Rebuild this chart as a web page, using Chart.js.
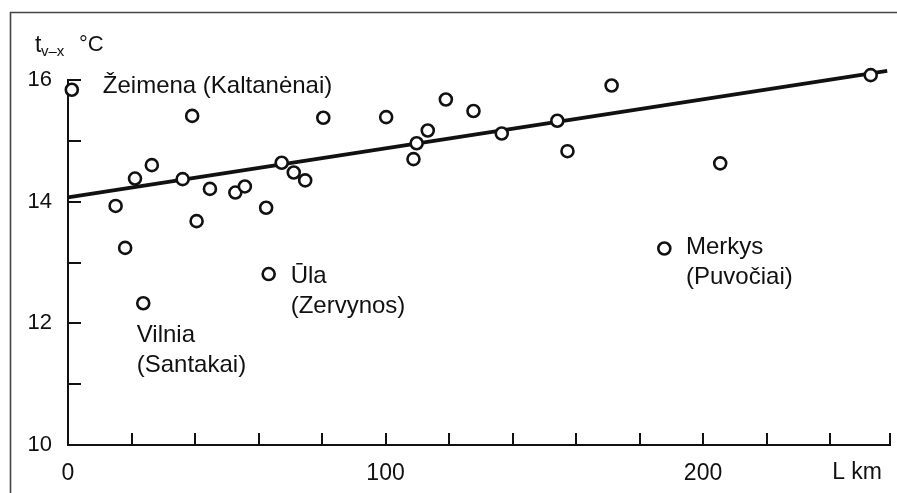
<!DOCTYPE html>
<html>
<head>
<meta charset="utf-8">
<script src="https://cdn.jsdelivr.net/npm/chart.js@4.4.0/dist/chart.umd.min.js"></script>
<style>
html,body{margin:0;padding:0;background:#fff;overflow:hidden;}
#wrap{width:897px;height:493px;position:relative;overflow:hidden;}
canvas{display:block;}
</style>
</head>
<body>
<div id="wrap"><canvas id="c" width="899" height="493"></canvas></div>
<script>
// ---- data ----
const riverLengthKm = [1.2, 15.0, 18.0, 21.1, 26.4, 23.7, 36.1, 39.1, 40.5, 44.7, 52.7, 55.7, 62.4, 63.2, 67.3, 71.1,
  74.7, 80.4, 100.2, 108.8, 109.8, 113.3, 119.0, 127.7, 136.6, 154.1, 157.3, 171.2, 187.8, 205.4, 252.8];
const meanTempC = [15.84, 13.93, 13.24, 14.38, 14.60, 12.33, 14.37, 15.41, 13.68, 14.21, 14.15, 14.25, 13.90, 12.81, 14.64, 14.48,
  14.35, 15.38, 15.39, 14.70, 14.96, 15.17, 15.68, 15.49, 15.12, 15.33, 14.83, 15.91, 13.23, 14.63, 16.08];
const trendLengthKm = [0, 258];
const trendTempC = [14.07, 16.15];
const xTickValues = [0, 20, 40, 60, 80, 100, 120, 140, 160, 180, 200, 220, 240, 259];
const xLabelValues = [0, 100, 200];
const yTickValues = [10, 11, 12, 13, 14, 15, 16];
const yLabelValues = [10, 12, 14, 16];
const stationLabels = [
  ['Žeimena (Kaltanėnai)'],
  ['Vilnia', '(Santakai)'],
  ['Ūla', '(Zervynos)'],
  ['Merkys', '(Puvočiai)']
];
const stationPointIndex = [0, 5, 13, 28];

// ---- layout / style (not data) ----
const labelOffsets = [[31, 3], [-6.5, 38.5], [22, 9], [21.7, 5]];
const FONT = '"Liberation Sans", Arial, Helvetica, sans-serif';
const INK = '#111';

const decor = {
  id: 'decor',
  beforeDraw(chart) {
    const ctx = chart.ctx;
    ctx.save();
    ctx.fillStyle = '#fff';
    ctx.fillRect(0, 0, chart.width, chart.height);
    ctx.strokeStyle = '#444';
    ctx.lineWidth = 1.6;
    ctx.beginPath();
    ctx.moveTo(10.5, chart.height);
    ctx.lineTo(10.5, 12.5);
    ctx.lineTo(chart.width, 12.5);
    ctx.stroke();
    ctx.restore();
  },
  afterDraw(chart) {
    const ctx = chart.ctx;
    const xs = chart.scales.x, ys = chart.scales.y;
    ctx.save();
    ctx.strokeStyle = INK;
    ctx.lineWidth = 2;
    ctx.beginPath();
    xTickValues.forEach(v => {
      const px = Math.round(xs.getPixelForValue(v));
      ctx.moveTo(px, ys.bottom);
      ctx.lineTo(px, ys.bottom - 12);
    });
    yTickValues.forEach(v => {
      const py = Math.round(ys.getPixelForValue(v));
      ctx.moveTo(xs.left, py);
      ctx.lineTo(xs.left + 13, py);
    });
    ctx.stroke();

    ctx.fillStyle = INK;
    ctx.textBaseline = 'alphabetic';
    ctx.textAlign = 'left';
    // station labels
    ctx.font = '24px ' + FONT;
    stationLabels.forEach((lines, i) => {
      const idx = stationPointIndex[i];
      const px = xs.getPixelForValue(riverLengthKm[idx]) + labelOffsets[i][0];
      const py = ys.getPixelForValue(meanTempC[idx]) + labelOffsets[i][1];
      lines.forEach((t, k) => ctx.fillText(t, px, py + k * 30));
    });
    // axis titles
    ctx.font = '23px ' + FONT;
    ctx.fillText('t', 35, 52);
    ctx.font = '15px ' + FONT;
    ctx.fillText('v–x', 41, 56);
    ctx.font = '22px ' + FONT;
    ctx.fillText('°C', 79, 51);
    ctx.font = '23px ' + FONT;
    ctx.textAlign = 'center';
    ctx.textBaseline = 'middle';
    ctx.fillText('L km', xs.getPixelForValue(248.5), 473);
    ctx.restore();
  }
};

new Chart(document.getElementById('c'), {
  type: 'scatter',
  data: {
    datasets: [
      {
        data: riverLengthKm.map((x, i) => ({x, y: meanTempC[i]})),
        pointRadius: 6,
        pointBorderWidth: 2.6,
        pointBackgroundColor: '#fff',
        pointBorderColor: INK,
        showLine: false,
        clip: false,
        order: 1
      },
      {
        data: trendLengthKm.map((x, i) => ({x, y: trendTempC[i]})),
        showLine: true,
        pointRadius: 0,
        borderColor: INK,
        borderWidth: 3.8,
        clip: false,
        order: 2
      }
    ]
  },
  options: {
    responsive: false,
    animation: false,
    events: [],
    layout: {padding: {top: 80, right: 0, left: 0, bottom: 0}},
    plugins: {legend: {display: false}, tooltip: {enabled: false}},
    scales: {
      x: {
        type: 'linear', min: 0, max: 259,
        afterBuildTicks: s => { s.ticks = xTickValues.map(v => ({value: v})); },
        afterFit: s => { s.height = 48; s.paddingRight = 5; },
        grid: {display: false, drawTicks: false},
        border: {display: true, color: INK, width: 2},
        ticks: {
          autoSkip: false, maxRotation: 0, minRotation: 0, padding: 15,
          color: INK, font: {size: 23, family: FONT},
          callback: v => xLabelValues.includes(v) ? String(v) : ''
        }
      },
      y: {
        type: 'linear', min: 10, max: 16,
        afterBuildTicks: s => { s.ticks = yTickValues.map(v => ({value: v})); },
        afterFit: s => { s.width = 68; },
        grid: {display: false, drawTicks: false},
        border: {display: true, color: INK, width: 2},
        ticks: {
          autoSkip: false, padding: 16,
          color: INK, font: {size: 22, family: FONT},
          callback: v => yLabelValues.includes(v) ? String(v) : ''
        }
      }
    }
  },
  plugins: [decor]
});
</script>
</body>
</html>
